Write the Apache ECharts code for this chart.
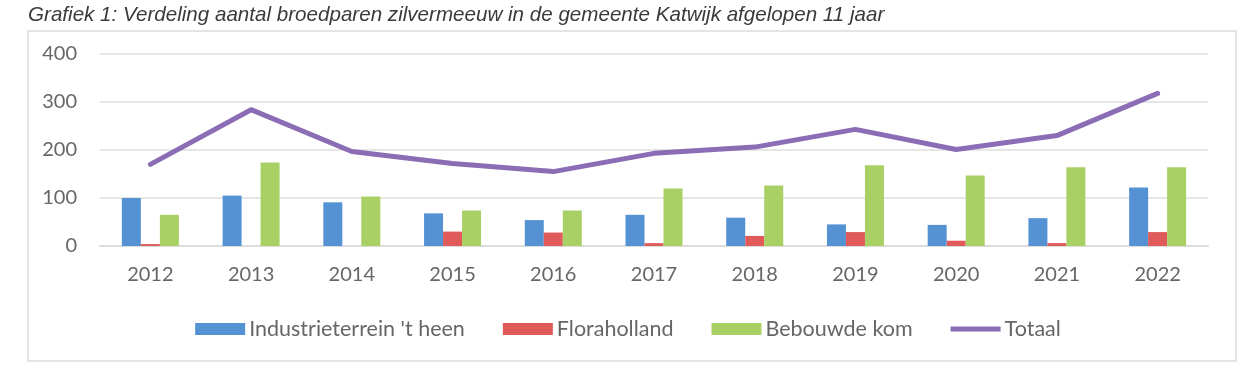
<!DOCTYPE html>
<html>
<head>
<meta charset="utf-8">
<script src="https://cdn.jsdelivr.net/npm/echarts@6/dist/echarts.min.js"></script>
<style>
  html, body { margin: 0; padding: 0; background: #fff; }
  #chart { width: 1256px; height: 370px; }
</style>
</head>
<body>
<div id="chart"></div>
<script>
const titleText = "Grafiek 1: Verdeling aantal broedparen zilvermeeuw in de gemeente Katwijk afgelopen 11 jaar";
const years = ["2012", "2013", "2014", "2015", "2016", "2017", "2018", "2019", "2020", "2021", "2022"];
const industrie = [100, 105, 91, 68, 54, 65, 59, 45, 44, 58, 122];
const flora = [4, 0, 0, 30, 28, 6, 21, 29, 11, 6, 29];
const bebouwd = [65, 174, 103, 74, 74, 120, 126, 168, 147, 164, 164];
const totaal = [170, 284, 197, 172, 155, 193, 206, 243, 201, 230, 318];
const seriesNames = ["Industrieterrein 't heen", "Floraholland", "Bebouwde kom", "Totaal"];

const chart = echarts.init(document.getElementById('chart'), null, { renderer: 'canvas' });
const labelFont = 'Lato, "Open Sans", sans-serif';
chart.setOption({
  animation: false,
  backgroundColor: '#ffffff',
  title: {
    text: titleText,
    left: 23,
    top: 0,
    textStyle: {
      fontFamily: '"Liberation Sans", Arial, sans-serif',
      fontStyle: 'italic',
      fontWeight: 'normal',
      fontSize: 20.6,
      color: '#3a3a3a'
    }
  },
  graphic: [{
    type: 'rect',
    shape: { x: 28, y: 31, width: 1208, height: 330 },
    style: { fill: 'none', stroke: '#e4e4e4', lineWidth: 2 },
    silent: true
  }],
  legend: {
    data: [
      { name: seriesNames[0], icon: 'rect' },
      { name: seriesNames[1], icon: 'rect' },
      { name: seriesNames[2], icon: 'rect' },
      { name: seriesNames[3], icon: 'path://M0,0 L50,0 L50,5 L0,5 Z' }
    ],
    left: 'center',
    top: 313,
    itemWidth: 50,
    itemHeight: 12,
    itemGap: 38,
    textStyle: { fontFamily: labelFont, fontSize: 21.5, color: '#666666', padding: [0, 0, 0, -1] }
  },
  grid: { left: 100, right: 48, top: 54, height: 192, containLabel: false },
  xAxis: {
    type: 'category',
    data: years,
    boundaryGap: true,
    axisLine: { show: true, lineStyle: { color: '#dcdcdc', width: 2 } },
    axisTick: { show: false },
    axisLabel: { fontFamily: labelFont, fontSize: 20, color: '#666666', margin: 19 }
  },
  yAxis: {
    type: 'value',
    min: 0,
    max: 400,
    interval: 100,
    axisLine: { show: false },
    axisTick: { show: false },
    splitLine: { lineStyle: { color: '#e6e6e6', width: 2 } },
    axisLabel: { fontFamily: labelFont, fontSize: 20, color: '#666666', margin: 23 }
  },
  series: [
    { name: seriesNames[0], type: 'bar', data: industrie, barWidth: 19, barGap: '0%', itemStyle: { color: '#5592d4' } },
    { name: seriesNames[1], type: 'bar', data: flora, barWidth: 19, barGap: '0%', itemStyle: { color: '#e05a5a' } },
    { name: seriesNames[2], type: 'bar', data: bebouwd, barWidth: 19, barGap: '0%', itemStyle: { color: '#a9d064' } },
    { name: seriesNames[3], type: 'line', data: totaal, symbol: 'none', showSymbol: false,
      lineStyle: { color: '#8a6db5', width: 5, join: 'round', cap: 'round' }, itemStyle: { color: '#8a6db5' } }
  ]
});
</script>
</body>
</html>
